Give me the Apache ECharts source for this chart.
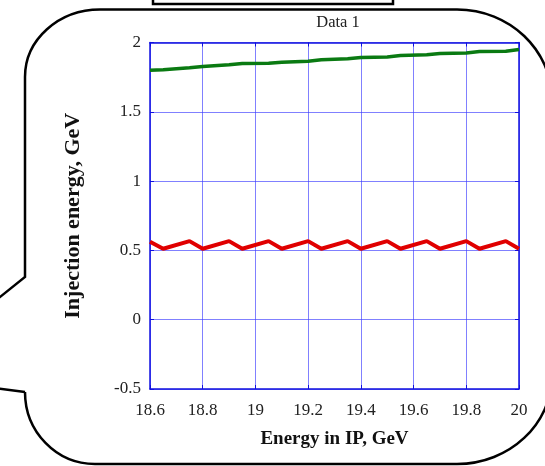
<!DOCTYPE html>
<html>
<head>
<meta charset="utf-8">
<script src="https://cdn.jsdelivr.net/npm/echarts@6/dist/echarts.min.js"></script>
<style>
html,body{margin:0;padding:0;background:#fff;}
#chart{width:545px;height:466px;}
</style>
</head>
<body>
<div id="chart"></div>
<script>
// Data
const energyIP = [18.6, 18.65, 18.75, 18.8, 18.9, 18.95, 19.05, 19.1, 19.2, 19.25,
                  19.35, 19.4, 19.5, 19.55, 19.65, 19.7, 19.8, 19.85, 19.95, 20.0];
const greenSeries = [1.800, 1.804, 1.817, 1.826, 1.839, 1.849, 1.851, 1.858, 1.865, 1.876,
                     1.882, 1.892, 1.896, 1.906, 1.911, 1.921, 1.925, 1.935, 1.937, 1.950];
const redSeries = [0.563, 0.512, 0.567, 0.512, 0.567, 0.512, 0.567, 0.512, 0.567, 0.512,
                   0.567, 0.512, 0.567, 0.512, 0.567, 0.512, 0.567, 0.512, 0.567, 0.512];
const titleText = 'Data 1';
const xName = 'Energy in IP, GeV';
const yName = 'Injection energy, GeV';

const chart = echarts.init(document.getElementById('chart'), null, {renderer: 'canvas'});
const serif = '"Liberation Serif", "Times New Roman", serif';
const gridColor = 'rgba(60,60,255,0.65)';
const axisColor = '#1010e0';

const pair = (xs, ys) => xs.map((x, i) => [x, ys[i]]);

const strokeStyle = {fill: 'none', stroke: '#000', lineWidth: 2.5};
const curve = (x1, y1, c1x, c1y, c2x, c2y, x2, y2) => ({
  type: 'bezierCurve', z: 10,
  shape: {x1, y1, cpx1: c1x, cpy1: c1y, cpx2: c2x, cpy2: c2y, x2, y2},
  style: strokeStyle
});
const poly = (pts) => ({type: 'polyline', z: 10, shape: {points: pts}, style: strokeStyle});

chart.setOption({
  backgroundColor: '#fff',
  animation: false,
  title: {
    text: titleText, left: 333, top: 9, textAlign: 'center',
    textStyle: {fontFamily: serif, fontSize: 16.5, fontWeight: 'normal', color: '#222'}
  },
  grid: {left: 150, right: 26, top: 42.5, bottom: 77, containLabel: false},
  xAxis: [{
    type: 'value', min: 18.6, max: 20, interval: 0.2,
    name: xName, nameLocation: 'middle', nameGap: 41,
    nameTextStyle: {fontFamily: serif, fontSize: 19, fontWeight: 'bold', color: '#111'},
    axisLine: {show: true, onZero: false, lineStyle: {color: axisColor, width: 1.5}},
    axisTick: {show: true, inside: true, length: 4, lineStyle: {color: axisColor}},
    axisLabel: {fontFamily: serif, fontSize: 17, color: '#222', margin: 13},
    splitLine: {show: true, lineStyle: {color: gridColor, width: 1}}
  }, {
    type: 'value', min: 18.6, max: 20, interval: 0.2, position: 'top',
    axisLine: {show: true, onZero: false, lineStyle: {color: axisColor, width: 1.5}},
    axisTick: {show: true, inside: true, length: 4, lineStyle: {color: axisColor}},
    axisLabel: {show: false}, splitLine: {show: false}
  }],
  yAxis: [{
    type: 'value', min: -0.5, max: 2, interval: 0.5,
    name: yName, nameLocation: 'middle', nameGap: 66, nameRotate: 90,
    nameTextStyle: {fontFamily: serif, fontSize: 22, fontWeight: 'bold', color: '#111'},
    axisLine: {show: true, onZero: false, lineStyle: {color: axisColor, width: 1.5}},
    axisTick: {show: true, inside: true, length: 4, lineStyle: {color: axisColor}},
    axisLabel: {fontFamily: serif, fontSize: 17, color: '#222', margin: 9},
    splitLine: {show: true, lineStyle: {color: gridColor, width: 1}}
  }, {
    type: 'value', min: -0.5, max: 2, interval: 0.5, position: 'right',
    axisLine: {show: true, onZero: false, lineStyle: {color: axisColor, width: 1.5}},
    axisTick: {show: true, inside: true, length: 4, lineStyle: {color: axisColor}},
    axisLabel: {show: false}, splitLine: {show: false}
  }],
  series: [{
    type: 'line', data: pair(energyIP, greenSeries), xAxisIndex: 0, yAxisIndex: 0,
    showSymbol: false, lineStyle: {color: '#0a7a12', width: 3.5}, z: 5
  }, {
    type: 'line', data: pair(energyIP, redSeries), xAxisIndex: 0, yAxisIndex: 0,
    showSymbol: false, lineStyle: {color: '#e00000', width: 4}, z: 5
  }],
  graphic: [
    poly([[-5, 301], [25, 277], [25, 77]]),
    curve(25, 77, 25, 39.7, 58.6, 9.5, 100, 9.5),
    poly([[100, 9.5], [457, 9.5]]),
    curve(457, 9.5, 509.5, 9.5, 552, 50, 552, 100),
    poly([[552, 100], [552, 375]]),
    curve(552, 375, 552, 424.2, 509.5, 464, 457, 464),
    poly([[457, 464], [95, 464]]),
    curve(95, 464, 56.3, 464, 25, 431.8, 25, 392),
    poly([[25, 392], [-5, 388]]),
    {
      type: 'rect', z: 10,
      shape: {x: 153, y: -10, width: 240, height: 14},
      style: strokeStyle
    }
  ]
});
</script>
</body>
</html>
